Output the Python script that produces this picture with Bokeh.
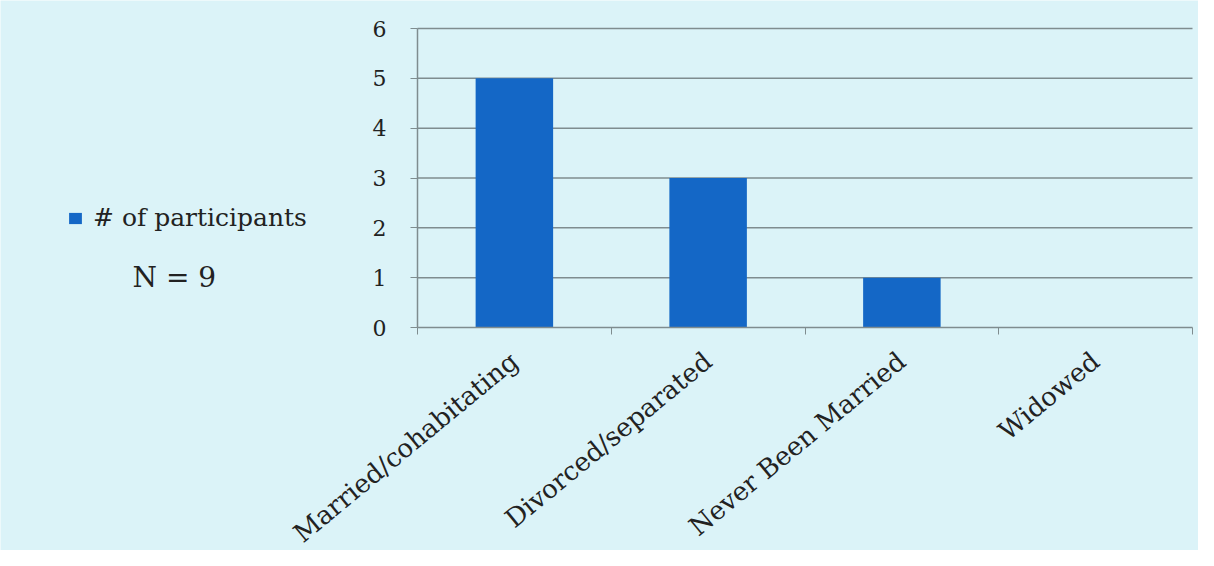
from bokeh.plotting import figure
from bokeh.models import ColumnDataSource, FixedTicker, Legend, LegendItem, Label, Range1d
from bokeh.embed import file_html
from bokeh.resources import INLINE

categories = ["Married/cohabitating", "Divorced/separated", "Never Been Married", "Widowed"]
participants = [5, 3, 1, 0]
y_ticks = [0, 1, 2, 3, 4, 5, 6]
series_name = "# of participants"
note = "N = 9"

BG = "#DBF3F8"
BAR = "#1467C6"
AX = "#7f8c8f"
TXT = "#222222"
FONT = "DejaVu Serif"

W, H = 1198, 550
# pixel box of the plotting area inside the canvas
PX_L, PX_R, PX_T, PX_B = 417, 1192, 28, 327
n = len(categories)
ymax = y_ticks[-1]
cat_px = (PX_R - PX_L) / n
val_px = (PX_B - PX_T) / ymax

xpos = [i + 0.5 for i in range(n)]
src = ColumnDataSource(dict(x=xpos, top=participants, name=categories))

# the frame spans the whole canvas; both axes are pinned at 0 with bounds
p = figure(width=W, height=H, output_backend="svg", toolbar_location=None,
           x_range=Range1d(-PX_L / cat_px, n + (W - PX_R) / cat_px),
           y_range=Range1d(-(H - PX_B) / val_px, ymax + PX_T / val_px),
           min_border_left=0, min_border_right=0, min_border_top=0, min_border_bottom=0)
p.background_fill_color = BG
p.border_fill_color = BG
p.outline_line_color = None
p.xgrid.grid_line_color = None
p.ygrid.grid_line_color = None

# horizontal gridlines limited to the plotting area
grid_y = y_ticks[1:]
p.segment(x0=[0] * len(grid_y), x1=[n] * len(grid_y), y0=grid_y, y1=grid_y,
          line_color=AX, line_width=1.5)

r = p.vbar(x="x", top="top", width=0.4, source=src, fill_color=BAR, line_color=None)

p.xaxis.fixed_location = 0
p.xaxis.bounds = (0, n)
p.xaxis.ticker = FixedTicker(ticks=xpos, minor_ticks=list(range(n + 1)))
p.xaxis.major_label_overrides = {x: c for x, c in zip(xpos, categories)}
p.xaxis.major_tick_out = 0
p.xaxis.major_tick_in = 0
p.xaxis.minor_tick_out = 7
p.xaxis.minor_tick_in = 0
p.xaxis.minor_tick_line_color = AX
p.xaxis.axis_line_color = AX
p.xaxis.axis_line_width = 1.5
p.xaxis.major_label_orientation = 0.69
p.xaxis.major_label_text_font = FONT
p.xaxis.major_label_text_font_size = "26px"
p.xaxis.major_label_text_color = TXT
p.xaxis.major_label_standoff = 23

p.yaxis.fixed_location = 0
p.yaxis.bounds = (0, ymax)
p.yaxis.ticker = FixedTicker(ticks=y_ticks)
p.yaxis.minor_tick_line_color = None
p.yaxis.major_tick_out = 7
p.yaxis.major_tick_in = 0
p.yaxis.major_tick_line_color = AX
p.yaxis.axis_line_color = AX
p.yaxis.axis_line_width = 1.5
p.yaxis.major_label_text_font = FONT
p.yaxis.major_label_text_font_size = "22px"
p.yaxis.major_label_text_color = TXT
p.yaxis.major_label_standoff = 24

legend = Legend(items=[LegendItem(label=series_name, renderers=[r])],
                location=(67, 318), background_fill_alpha=0, border_line_color=None,
                label_text_font=FONT, label_text_font_size="25px", label_text_color=TXT,
                glyph_width=16, glyph_height=14, label_standoff=10, padding=0, margin=0,
                label_height=24)
p.add_layout(legend, "center")

p.add_layout(Label(x=(132 - PX_L) / cat_px, y=(PX_B - 277) / val_px, text=note,
                   text_baseline="middle", text_font=FONT, text_font_size="28px", text_color=TXT))

open("out.html", "w").write(file_html(p, INLINE))
